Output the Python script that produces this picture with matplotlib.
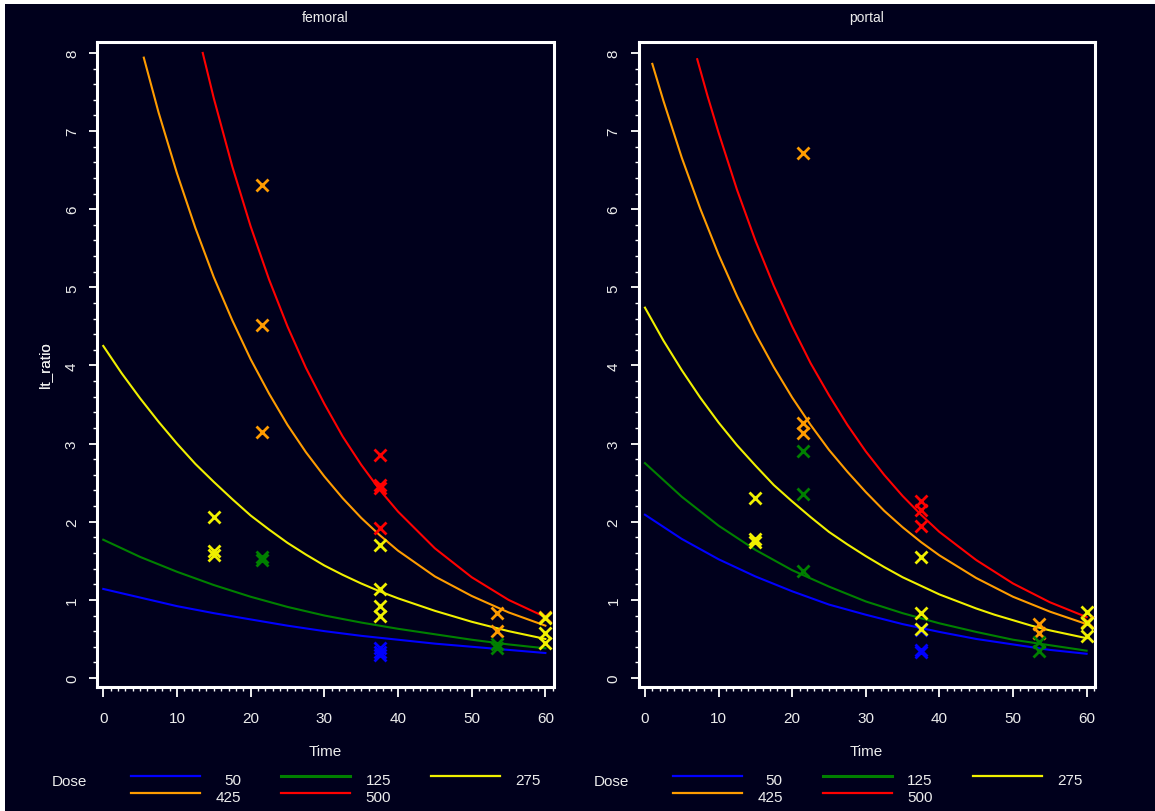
import matplotlib
matplotlib.use("Agg")
import matplotlib.pyplot as plt
from matplotlib.lines import Line2D
from matplotlib.patches import Rectangle
from matplotlib.ticker import MultipleLocator

plt.rcParams['font.family'] = ['Liberation Sans', 'DejaVu Sans']

# ---------------- data ----------------
panels = ["femoral", "portal"]
doses = [50, 125, 275, 425, 500]
dose_colors = {50: "#0000ff", 125: "#008000", 275: "#f0f000", 425: "#ff9c00", 500: "#ff0000"}

t_grid = [0, 5, 10, 15, 20, 25, 30, 35, 40, 45, 50, 55, 60]
t_fine = [0, 2.5, 5, 7.5, 10, 12.5, 15, 17.5, 20, 22.5, 25, 27.5, 30, 32.5, 35, 37.5,
          40, 42.5, 45, 47.5, 50, 52.5, 55, 57.5, 60]

# fitted curves, femoral
fem_blue = [1.14, 1.03, 0.92, 0.83, 0.75, 0.67, 0.60, 0.54, 0.49, 0.44, 0.40, 0.36, 0.32]
fem_green = [1.77, 1.55, 1.36, 1.19, 1.04, 0.91, 0.80, 0.71, 0.63, 0.56, 0.49, 0.43, 0.38]
fem_yellow = [4.25, 3.90, 3.58, 3.28, 3.00, 2.74, 2.51, 2.29, 2.08, 1.90, 1.73, 1.58, 1.44,
              1.32, 1.21, 1.11, 1.02, 0.94, 0.86, 0.79, 0.72, 0.66, 0.60, 0.55, 0.50]
fem_orange_t = [5.5, 7.5, 10, 12.5, 15, 17.5, 20, 22.5, 25, 27.5, 30, 32.5, 35, 37.5, 40, 45, 50, 55, 60]
fem_orange = [7.94, 7.24, 6.46, 5.76, 5.13, 4.58, 4.08, 3.64, 3.24, 2.89, 2.58, 2.30, 2.05, 1.83, 1.63, 1.30, 1.05, 0.84, 0.67]
fem_red_t = [13.5, 15, 17.5, 20, 22.5, 25, 27.5, 30, 32.5, 35, 37.5, 40, 45, 50, 55, 60]
fem_red = [8.00, 7.42, 6.55, 5.78, 5.10, 4.50, 3.97, 3.51, 3.09, 2.73, 2.41, 2.13, 1.66, 1.29, 1.00, 0.78]

# fitted curves, portal
por_blue = [2.09, 1.78, 1.52, 1.30, 1.11, 0.94, 0.81, 0.69, 0.59, 0.50, 0.43, 0.36, 0.31]
por_green = [2.75, 2.32, 1.95, 1.64, 1.38, 1.17, 0.98, 0.83, 0.70, 0.59, 0.49, 0.42, 0.35]
por_yellow = [4.74, 4.32, 3.94, 3.59, 3.27, 2.98, 2.72, 2.47, 2.26, 2.06, 1.87, 1.71, 1.56,
              1.42, 1.29, 1.18, 1.07, 0.98, 0.89, 0.81, 0.74, 0.67, 0.61, 0.56, 0.51]
por_orange_t = [1.0, 2.5, 5, 7.5, 10, 12.5, 15, 17.5, 20, 22.5, 25, 27.5, 30, 32.5, 35, 37.5, 40, 45, 50, 55, 60]
por_orange = [7.86, 7.39, 6.66, 6.01, 5.42, 4.89, 4.41, 3.98, 3.59, 3.24, 2.92, 2.64, 2.38, 2.14, 1.93, 1.74, 1.57, 1.28, 1.04, 0.85, 0.69]
por_red_t = [7.1, 8.5, 10, 12.5, 15, 17.5, 20, 22.5, 25, 27.5, 30, 32.5, 35, 37.5, 40, 45, 50, 55, 60]
por_red = [7.92, 7.45, 6.98, 6.25, 5.60, 5.02, 4.50, 4.03, 3.62, 3.24, 2.90, 2.60, 2.33, 2.09, 1.87, 1.51, 1.21, 0.97, 0.78]

# observations, femoral
fem_obs_time = [15, 15, 15,
                21.5, 21.5, 21.5, 21.5, 21.5,
                37.5, 37.5, 37.5, 37.5, 37.5, 37.5, 37.5, 37.5, 37.5, 37.5, 37.5,
                53.5, 53.5, 53.5, 53.5,
                60, 60, 60, 60]
fem_obs_value = [2.06, 1.62, 1.57,
                 6.31, 4.52, 3.15, 1.55, 1.51,
                 2.85, 2.47, 2.43, 1.92, 1.70, 1.14, 0.92, 0.79, 0.38, 0.33, 0.29,
                 0.83, 0.60, 0.43, 0.38,
                 0.78, 0.77, 0.58, 0.45]
fem_obs_dose = [275, 275, 275,
                425, 425, 425, 125, 125,
                500, 500, 500, 500, 275, 275, 275, 275, 50, 50, 50,
                425, 425, 125, 125,
                425, 275, 275, 275]

# observations, portal
por_obs_time = [15, 15, 15,
                21.5, 21.5, 21.5, 21.5, 21.5, 21.5,
                37.5, 37.5, 37.5, 37.5, 37.5, 37.5, 37.5, 37.5, 37.5,
                53.5, 53.5, 53.5, 53.5,
                60, 60, 60, 60]
por_obs_value = [2.30, 1.78, 1.74,
                 6.72, 3.27, 3.14, 2.90, 2.35, 1.37,
                 2.26, 2.15, 1.94, 1.55, 0.83, 0.61, 0.63, 0.36, 0.33,
                 0.69, 0.58, 0.46, 0.35,
                 0.84, 0.72, 0.71, 0.54]
por_obs_dose = [275, 275, 275,
                425, 425, 425, 125, 125, 125,
                500, 500, 500, 275, 275, 50, 275, 50, 50,
                425, 425, 125, 125,
                275, 425, 275, 275]

curves = {
    "femoral": [(t_grid, fem_blue, 50), (t_grid, fem_green, 125), (t_fine, fem_yellow, 275),
                (fem_orange_t, fem_orange, 425), (fem_red_t, fem_red, 500)],
    "portal": [(t_grid, por_blue, 50), (t_grid, por_green, 125), (t_fine, por_yellow, 275),
               (por_orange_t, por_orange, 425), (por_red_t, por_red, 500)],
}
observations = {
    "femoral": (fem_obs_time, fem_obs_value, fem_obs_dose),
    "portal": (por_obs_time, por_obs_value, por_obs_dose),
}

x_ticks = [0, 10, 20, 30, 40, 50, 60]
y_ticks = [0, 1, 2, 3, 4, 5, 6, 7, 8]

# ---------------- style ----------------
W, H = 1155, 812
BG = "#00001c"
FG = "#ececec"

fig = plt.figure(figsize=(W / 100, H / 100), dpi=100, facecolor="white")
fig.add_artist(Rectangle((5 / W, 0), 1, 1 - 5 / H, transform=fig.transFigure,
                         facecolor=BG, edgecolor="none", zorder=-10))

def fx(px):
    return px / W

def fy(py):
    return 1 - py / H

axes_px = {"femoral": (97, 553.5), "portal": (638.7, 1094.7)}
top_px, bot_px = 43, 688

for name in panels:
    x0, x1 = axes_px[name]
    ax = fig.add_axes([fx(x0), fy(bot_px), (x1 - x0) / W, (bot_px - top_px) / H])
    ax.set_facecolor(BG)
    for tt, vv, d in curves[name]:
        ax.plot(tt, vv, color=dose_colors[d], lw=1.5, solid_joinstyle="round", zorder=2)
    ot, ov, od = observations[name]
    for t, v, d in zip(ot, ov, od):
        ax.plot([t], [v], linestyle="none", marker="x", ms=8, mew=2.0,
                color=dose_colors[d], zorder=3)
    ax.set_xlim(-0.85, 61.1)
    ax.set_ylim(-0.115, 8.14)
    ax.set_xticks(x_ticks)
    ax.set_yticks(y_ticks)
    ax.xaxis.set_minor_locator(MultipleLocator(1))
    ax.yaxis.set_minor_locator(MultipleLocator(0.2))
    for s in ax.spines.values():
        s.set_color("white")
        s.set_linewidth(2.2)
    ax.tick_params(which="major", direction="out", length=6, width=1.3, colors="white",
                   labelcolor=FG, labelsize=11)
    ax.tick_params(which="minor", direction="out", length=3, width=1.0, colors="white")
    ax.tick_params(axis="x", which="major", pad=10, length=7)
    ax.tick_params(axis="y", which="major", pad=7)
    for lab in ax.get_yticklabels():
        lab.set_rotation(90)
        lab.set_va("center")
    ax.set_xlabel("Time", color=FG, fontsize=11, va="center")
    ax.xaxis.set_label_coords(0.5, -(752 - bot_px) / (bot_px - top_px))
    ax.set_ylabel("lt_ratio", color=FG, fontsize=11, va="center")
    ax.yaxis.set_label_coords((45 - x0) / (x1 - x0), 0.5)
    ax.text(0.5, 1 + (top_px - 18) / (bot_px - top_px), name, transform=ax.transAxes,
            color=FG, fontsize=10, ha="center", va="center")

    # legend under each panel
    fig.text(fx(x0 - 45), fy(782), "Dose", color=FG, fontsize=11, ha="left", va="center")
    for i, d in enumerate(doses):
        col, row = i % 3, i // 3
        lx0 = x0 + 34 + 150 * col
        ly = 777 + 17 * row
        fig.add_artist(Line2D([fx(lx0), fx(lx0 + 69)], [fy(ly), fy(ly)],
                              transform=fig.transFigure, color=dose_colors[d],
                              lw=2.2 if d == 125 else 1.6))
        fig.text(fx(lx0 + 110), fy(ly + 4), str(d), color=FG, fontsize=11,
                 ha="right", va="center")

fig.savefig("out.png", dpi=100, facecolor=fig.get_facecolor())
